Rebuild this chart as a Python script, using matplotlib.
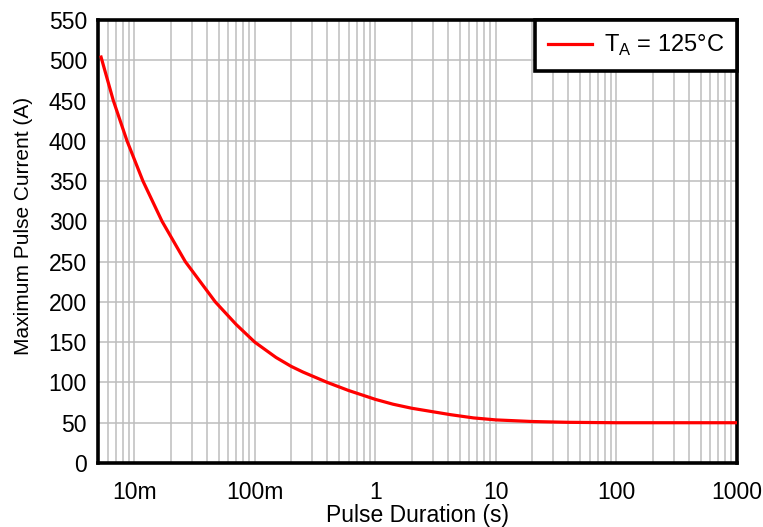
import matplotlib
matplotlib.use("Agg")
from matplotlib import pyplot as plt
from matplotlib.ticker import LogLocator, FixedLocator, NullFormatter
import numpy as np

plt.rcParams['font.family'] = ['Liberation Sans', 'DejaVu Sans']
plt.rcParams['mathtext.fontset'] = 'custom'
plt.rcParams['mathtext.rm'] = 'Liberation Sans'

# pulse duration (s) and maximum pulse current (A)
duration = [0.0053, 0.0067, 0.0087, 0.0118, 0.017, 0.0265, 0.047, 0.07, 0.1,
            0.15, 0.2, 0.25, 0.4, 0.6, 1, 1.4, 2, 4.2, 6.5, 10, 20, 40, 100, 1000]
current = [504, 450, 400, 350, 300, 250, 200, 172, 150,
           131, 120, 113, 100, 90, 79, 73, 68, 60, 56, 53.5, 51.5, 50.5, 50, 50]

xticks = [0.01, 0.1, 1, 10, 100, 1000]
xtick_labels = ["10m", "100m", "1", "10", "100", "1000"]
yticks = np.arange(0, 551, 50)

fig = plt.figure(figsize=(7.63, 5.27), dpi=100)
ax = fig.add_axes([98 / 763, 1 - 463 / 527, (737 - 98) / 763, (463 - 20) / 527])

ax.plot(duration, current, color="#ff0000", lw=2.3, label=r"T$_\mathregular{A}$ = 125°C", zorder=3)

ax.set_xscale("log")
ax.set_xlim(0.005, 1000)
ax.set_ylim(0, 550)
ax.xaxis.set_major_locator(FixedLocator(xticks))
ax.set_xticklabels(xtick_labels)
ax.xaxis.set_minor_locator(LogLocator(base=10, subs=np.arange(2, 10)))
ax.xaxis.set_minor_formatter(NullFormatter())
ax.set_yticks(yticks)

ax.grid(True, which="major", color="#bdbdbd", lw=1.1)
ax.grid(True, which="minor", axis="x", color="#bdbdbd", lw=1.1)
ax.tick_params(which="both", length=0, labelsize=16.5)
ax.tick_params(axis="x", pad=13)
ax.tick_params(axis="y", pad=8)
for s in ax.spines.values():
    s.set_linewidth(2.6)
    s.set_color("black")

ax.set_xlabel("Pulse Duration (s)", fontsize=16.5, labelpad=0)
ax.set_ylabel("Maximum Pulse Current (A)", fontsize=15)
ax.yaxis.set_label_coords(-0.102, 0.536)

leg = ax.legend(loc="upper right", fontsize=17, fancybox=False, framealpha=1,
                borderaxespad=0, handlelength=1.85, handletextpad=0.5,
                borderpad=0.55)
leg.get_frame().set_edgecolor("black")
leg.get_frame().set_linewidth(2.6)

fig.savefig("out.png", dpi=100)
